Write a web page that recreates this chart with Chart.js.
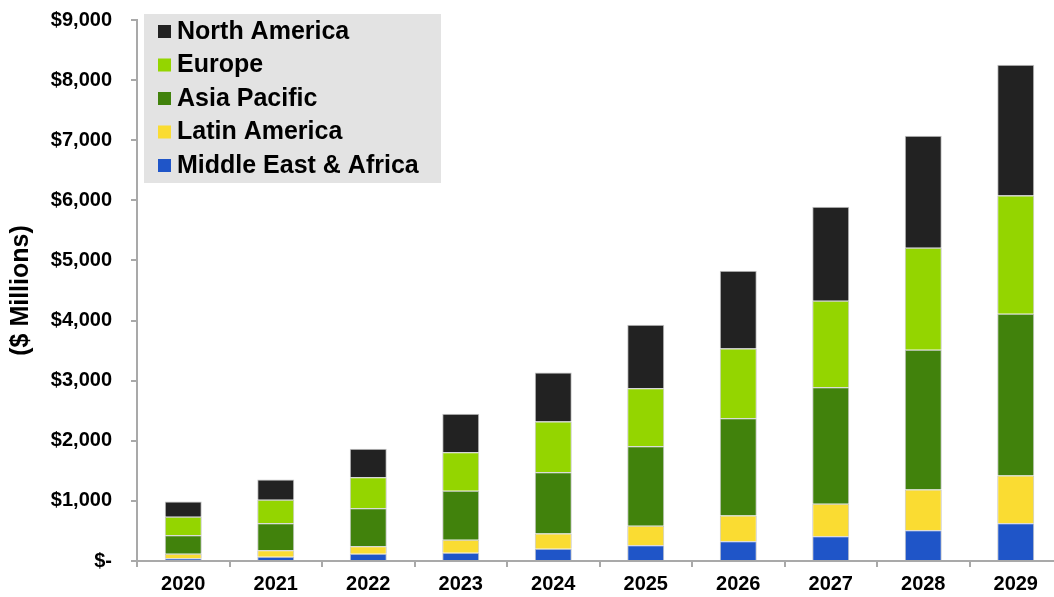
<!DOCTYPE html>
<html>
<head>
<meta charset="utf-8">
<script src="https://cdn.jsdelivr.net/npm/chart.js@4"></script>
<style>
  body { margin: 0; background: #fff; }
  #wrap { width: 1054px; height: 597px; overflow: hidden; }
</style>
</head>
<body>
<div id="wrap">
  <canvas id="chart" width="1068" height="597"></canvas>
</div>
<script>
// values, $ millions
const years = ['2020', '2021', '2022', '2023', '2024', '2025', '2026', '2027', '2028', '2029'];
const middleEastAfrica = [45, 70, 120, 136, 203, 263, 330, 413, 512, 629];
const latinAmerica = [75, 110, 126, 217, 255, 323, 427, 539, 678, 794];
const asiaPacific = [310, 449, 633, 815, 1020, 1324, 1619, 1940, 2324, 2690];
const europe = [305, 389, 515, 642, 843, 965, 1160, 1438, 1697, 1969];
const northAmerica = [255, 338, 473, 639, 815, 1055, 1293, 1564, 1864, 2174];
const yMax = 9000;
const yStep = 1000;

const FONT = '"Liberation Sans", Arial, sans-serif';
const axisGrey = '#a9a9a9';

// legend drawn inside the plot, top left, grey box
const boxLegend = {
  id: 'boxLegend',
  afterDraw(chart) {
    const ctx = chart.ctx;
    const sets = chart.data.datasets.slice().reverse();
    ctx.save();
    ctx.fillStyle = '#e3e3e3';
    ctx.fillRect(144, 14, 297, 169);
    ctx.font = 'bold 25px ' + FONT;
    ctx.textBaseline = 'middle';
    sets.forEach(function(ds, i) {
      const y = 31 + i * 33.5;
      ctx.fillStyle = ds.backgroundColor;
      ctx.fillRect(158, y - 6, 13, 13);
      ctx.fillStyle = '#000';
      ctx.fillText(ds.label, 177, y + 1);
    });
    ctx.restore();
  }
};

function bar(label, data, color) {
  return {
    label: label,
    data: data,
    backgroundColor: color,
    borderColor: '#c4c4c4',
    borderWidth: 1,
    barPercentage: 0.4,
    categoryPercentage: 1
  };
}

new Chart(document.getElementById('chart'), {
  type: 'bar',
  data: {
    labels: years,
    datasets: [
      bar('Middle East & Africa', middleEastAfrica, '#1f55c8'),
      bar('Latin America', latinAmerica, '#fadc32'),
      bar('Asia Pacific', asiaPacific, '#41820c'),
      bar('Europe', europe, '#94d500'),
      bar('North America', northAmerica, '#222222')
    ]
  },
  options: {
    responsive: false,
    animation: false,
    devicePixelRatio: 1,
    layout: { padding: { top: 20, right: 6, bottom: 0, left: 0 } },
    plugins: {
      legend: { display: false },
      tooltip: { enabled: false }
    },
    scales: {
      x: {
        stacked: true,
        afterFit(scale) { scale.height = 36; },
        border: { color: axisGrey, width: 2 },
        grid: { drawOnChartArea: false, color: axisGrey, lineWidth: 2, tickLength: 6, offset: true },
        ticks: { color: '#000', padding: 5, font: { family: FONT, size: 20, weight: 'bold' } }
      },
      y: {
        stacked: true,
        min: 0,
        max: yMax,
        afterFit(scale) {
          scale.width = 137;
          scale.paddingTop = 0;
          scale.paddingBottom = 0;
        },
        border: { color: axisGrey, width: 2 },
        grid: { drawOnChartArea: false, color: axisGrey, lineWidth: 2, tickLength: 6 },
        ticks: {
          stepSize: yStep,
          color: '#000',
          padding: 19,
          font: { family: FONT, size: 20, weight: 'bold' },
          callback: function(v) { return v === 0 ? '$-' : '$' + v.toLocaleString('en-US'); }
        },
        title: {
          display: true,
          text: '($ Millions)',
          color: '#000',
          padding: { top: 6, bottom: 0 },
          font: { family: FONT, size: 25, weight: 'bold' }
        }
      }
    }
  },
  plugins: [boxLegend]
});
</script>
</body>
</html>
